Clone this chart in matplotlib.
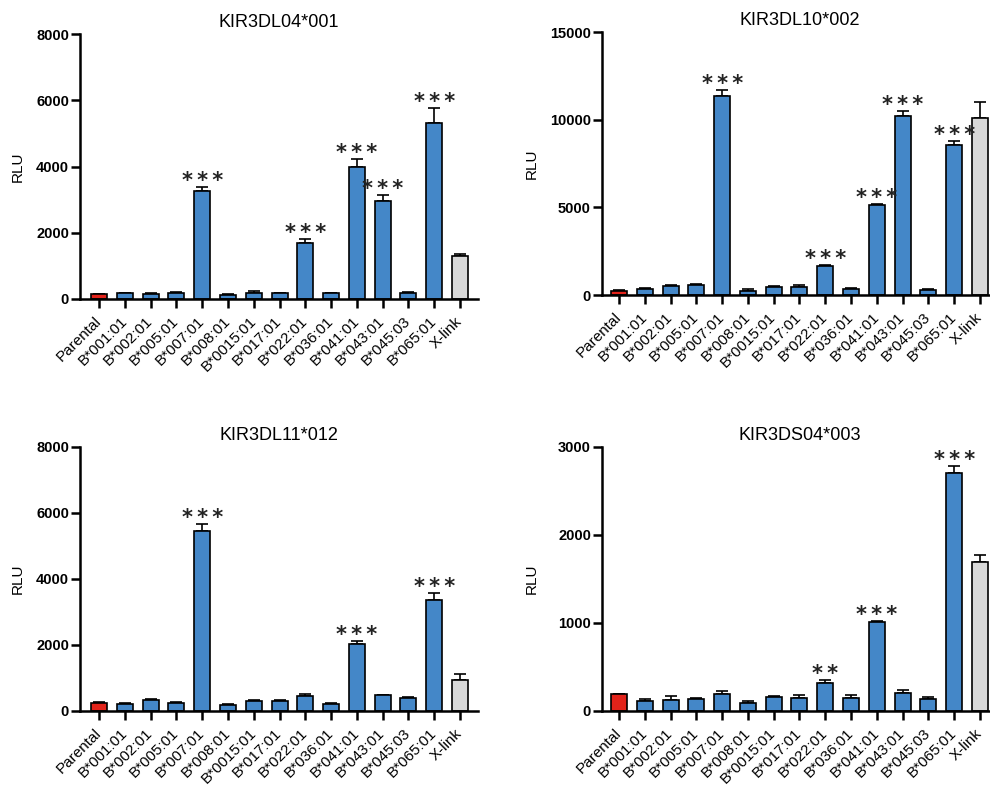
import matplotlib
matplotlib.use("Agg")
import matplotlib.pyplot as plt
import numpy as np

plt.rcParams['font.family'] = ['Liberation Sans', 'DejaVu Sans']

categories = ["Parental", "B*001:01", "B*002:01", "B*005:01", "B*007:01", "B*008:01",
              "B*0015:01", "B*017:01", "B*022:01", "B*036:01", "B*041:01", "B*043:01",
              "B*045:03", "B*065:01", "X-link"]

titles = ["KIR3DL04*001", "KIR3DL10*002", "KIR3DL11*012", "KIR3DS04*003"]

vals_3dl04 = [140, 170, 150, 180, 3260, 130, 180, 180, 1680, 180, 3975, 2970, 170, 5300, 1290]
err_3dl04 = [15, 20, 20, 20, 130, 15, 60, 15, 120, 15, 260, 180, 50, 470, 70]
sig_3dl04 = ["", "", "", "", "***", "", "", "", "***", "", "***", "***", "", "***", ""]

vals_3dl10 = [230, 340, 530, 570, 11340, 230, 475, 440, 1650, 340, 5150, 10220, 270, 8550, 10100]
err_3dl10 = [50, 70, 60, 60, 340, 90, 60, 130, 60, 60, 50, 280, 70, 220, 910]
sig_3dl10 = ["", "", "", "", "***", "", "", "", "***", "", "***", "***", "", "***", ""]

vals_3dl11 = [250, 210, 320, 240, 5460, 190, 310, 310, 460, 200, 2040, 475, 380, 3370, 940]
err_3dl11 = [30, 30, 30, 30, 220, 30, 30, 30, 55, 40, 80, 20, 40, 220, 170]
sig_3dl11 = ["", "", "", "", "***", "", "", "", "", "", "***", "", "", "***", ""]

vals_3ds04 = [193, 113, 121, 132, 193, 87, 159, 151, 322, 151, 1010, 208, 140, 2705, 1691]
err_3ds04 = [4, 19, 45, 19, 30, 26, 11, 27, 30, 34, 8, 27, 23, 83, 79]
sig_3ds04 = ["", "", "", "", "", "", "", "", "**", "", "***", "", "", "***", ""]

ymaxes = [8000, 15000, 8000, 3000]
yticks = [[0, 2000, 4000, 6000, 8000], [0, 5000, 10000, 15000],
          [0, 2000, 4000, 6000, 8000], [0, 1000, 2000, 3000]]

panels = [(vals_3dl04, err_3dl04, sig_3dl04), (vals_3dl10, err_3dl10, sig_3dl10),
          (vals_3dl11, err_3dl11, sig_3dl11), (vals_3ds04, err_3ds04, sig_3ds04)]

RED = "#E2231A"
BLUE = "#4487C8"
GRAY = "#D8D8D8"
colors = [RED] + [BLUE] * 13 + [GRAY]

W, H = 990, 787
fig = plt.figure(figsize=(W / 100, H / 100), dpi=100)

# axes boxes in pixels: left, top(px), right, bottom(px)
boxes = [(80, 34, 478, 299), (602, 32, 998, 295), (80, 447, 478, 711), (602, 447, 998, 711)]
xlims = [(-0.74, 14.7), (-0.66, 14.7), (-0.74, 14.7), (-0.66, 14.7)]
ylab_x = [-0.140, -0.159, -0.140, -0.159]

for i, ((vals, errs, sigs), box) in enumerate(zip(panels, boxes)):
    l, t, r, b = box
    ax = fig.add_axes([l / W, 1 - b / H, (r - l) / W, (b - t) / H])
    x = np.arange(len(categories))
    ax.bar(x, vals, width=0.62, color=colors, edgecolor="black", linewidth=1.2, zorder=2)
    ax.errorbar(x, vals, yerr=[np.zeros(len(vals)), errs], fmt="none", ecolor="black",
                elinewidth=1.2, capsize=4.5, capthick=1.2, zorder=1)
    ymax = ymaxes[i]
    px_per_unit = (b - t) / ymax
    for xi, v, e, s in zip(x, vals, errs, sigs):
        if s:
            ax.text(xi, v + e - 4 / px_per_unit, "\u2009".join(s), ha="center", va="bottom",
                    fontsize=15, fontweight="bold", color="#222222", clip_on=False,
                    family="DejaVu Sans")
    ax.set_xlim(*xlims[i])
    ax.set_ylim(0, ymax)
    ax.set_yticks(yticks[i])
    ax.set_yticklabels([str(v) for v in yticks[i]], fontweight="bold", fontsize=10.5)
    ax.set_xticks(x)
    ax.set_xticklabels(categories, rotation=45, ha="right", va="center",
                       rotation_mode="anchor", fontsize=11)
    for sp in ["top", "right"]:
        ax.spines[sp].set_visible(False)
    for sp in ["left", "bottom"]:
        ax.spines[sp].set_linewidth(1.8)
    ax.spines["bottom"].set_zorder(3)
    ax.tick_params(axis="both", direction="out", length=6.5, width=1.8)
    ax.tick_params(axis="y", pad=1.5)
    ax.tick_params(axis="x", pad=8)
    ax.set_title(titles[i], fontsize=13, pad=5)
    ax.set_ylabel("RLU", fontsize=11)
    ax.yaxis.set_label_coords(ylab_x[i], 0.5)

fig.savefig("out.png", dpi=100)
